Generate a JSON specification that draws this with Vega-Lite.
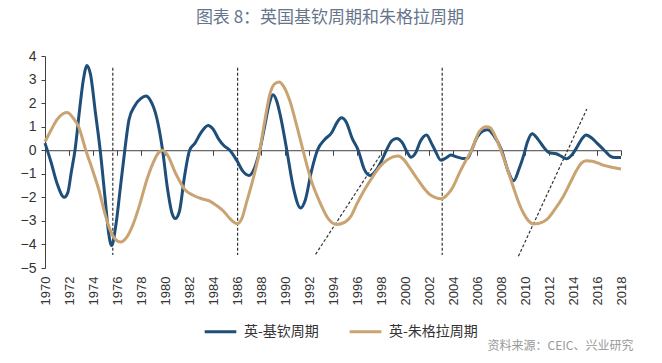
{
  "$schema": "https://vega.github.io/schema/vega-lite/v6.json",
  "width": 576,
  "height": 212,
  "autosize": {"type": "none"},
  "padding": {"left": 45, "top": 56, "right": 41, "bottom": 95},
  "background": "white",
  "config": {
    "view": {"stroke": null},
    "axisY": {"labelOverlap": false, "labelFlush": false, "labelFontSize": 14, "labelFont": "Liberation Sans", "labelColor": "#333333", "labelPadding": 5, "grid": false, "domainColor": "#404040", "tickColor": "#404040", "tickSize": 4, "title": null}
  },
  "title": {
    "text": "图表 8：英国基钦周期和朱格拉周期",
    "font": "Noto Sans CJK SC",
    "fontSize": 17,
    "fontWeight": "normal",
    "color": "#66758c",
    "anchor": "middle",
    "offset": 22,
    "dx": -3
  },
  "datasets": {
    "cycles": [
      {"year": 1970.0, "series": "英-基钦周期", "value": 0.3},
      {"year": 1970.5, "series": "英-基钦周期", "value": -0.5},
      {"year": 1971.0, "series": "英-基钦周期", "value": -1.4},
      {"year": 1971.6, "series": "英-基钦周期", "value": -2.0},
      {"year": 1971.9, "series": "英-基钦周期", "value": -1.8},
      {"year": 1972.2, "series": "英-基钦周期", "value": -0.9},
      {"year": 1972.5, "series": "英-基钦周期", "value": 0.0},
      {"year": 1972.9, "series": "英-基钦周期", "value": 1.8},
      {"year": 1973.2, "series": "英-基钦周期", "value": 3.0},
      {"year": 1973.5, "series": "英-基钦周期", "value": 3.6},
      {"year": 1973.8, "series": "英-基钦周期", "value": 3.2},
      {"year": 1974.2, "series": "英-基钦周期", "value": 1.6},
      {"year": 1974.6, "series": "英-基钦周期", "value": 0.0},
      {"year": 1975.0, "series": "英-基钦周期", "value": -2.0},
      {"year": 1975.3, "series": "英-基钦周期", "value": -3.5},
      {"year": 1975.55, "series": "英-基钦周期", "value": -4.05},
      {"year": 1975.9, "series": "英-基钦周期", "value": -3.2},
      {"year": 1976.3, "series": "英-基钦周期", "value": -1.5},
      {"year": 1976.65, "series": "英-基钦周期", "value": 0.0},
      {"year": 1977.0, "series": "英-基钦周期", "value": 1.3},
      {"year": 1977.5, "series": "英-基钦周期", "value": 1.9},
      {"year": 1978.0, "series": "英-基钦周期", "value": 2.2},
      {"year": 1978.4, "series": "英-基钦周期", "value": 2.3},
      {"year": 1978.8, "series": "英-基钦周期", "value": 2.1},
      {"year": 1979.3, "series": "英-基钦周期", "value": 1.4},
      {"year": 1979.8, "series": "英-基钦周期", "value": 0.0},
      {"year": 1980.2, "series": "英-基钦周期", "value": -1.6},
      {"year": 1980.6, "series": "英-基钦周期", "value": -2.7},
      {"year": 1980.85, "series": "英-基钦周期", "value": -2.9},
      {"year": 1981.2, "series": "英-基钦周期", "value": -2.6},
      {"year": 1981.6, "series": "英-基钦周期", "value": -1.2},
      {"year": 1982.05, "series": "英-基钦周期", "value": 0.0},
      {"year": 1982.5, "series": "英-基钦周期", "value": 0.3},
      {"year": 1983.0, "series": "英-基钦周期", "value": 0.75},
      {"year": 1983.6, "series": "英-基钦周期", "value": 1.05},
      {"year": 1984.0, "series": "英-基钦周期", "value": 0.9},
      {"year": 1984.5, "series": "英-基钦周期", "value": 0.45},
      {"year": 1984.9, "series": "英-基钦周期", "value": 0.2},
      {"year": 1985.4, "series": "英-基钦周期", "value": 0.0},
      {"year": 1986.0, "series": "英-基钦周期", "value": -0.45},
      {"year": 1986.5, "series": "英-基钦周期", "value": -0.9},
      {"year": 1987.0, "series": "英-基钦周期", "value": -1.07},
      {"year": 1987.5, "series": "英-基钦周期", "value": -0.7},
      {"year": 1987.9, "series": "英-基钦周期", "value": 0.0},
      {"year": 1988.3, "series": "英-基钦周期", "value": 1.0},
      {"year": 1988.7, "series": "英-基钦周期", "value": 2.0},
      {"year": 1989.0, "series": "英-基钦周期", "value": 2.35},
      {"year": 1989.3, "series": "英-基钦周期", "value": 2.1},
      {"year": 1989.6, "series": "英-基钦周期", "value": 1.5},
      {"year": 1990.15, "series": "英-基钦周期", "value": 0.0},
      {"year": 1990.7, "series": "英-基钦周期", "value": -1.6},
      {"year": 1991.3, "series": "英-基钦周期", "value": -2.45},
      {"year": 1991.7, "series": "英-基钦周期", "value": -2.1},
      {"year": 1992.2, "series": "英-基钦周期", "value": -0.9},
      {"year": 1992.7, "series": "英-基钦周期", "value": 0.0},
      {"year": 1993.3, "series": "英-基钦周期", "value": 0.45},
      {"year": 1993.9, "series": "英-基钦周期", "value": 0.75},
      {"year": 1994.3, "series": "英-基钦周期", "value": 1.15},
      {"year": 1994.7, "series": "英-基钦周期", "value": 1.38},
      {"year": 1995.1, "series": "英-基钦周期", "value": 1.2},
      {"year": 1995.6, "series": "英-基钦周期", "value": 0.5},
      {"year": 1996.1, "series": "英-基钦周期", "value": 0.0},
      {"year": 1996.6, "series": "英-基钦周期", "value": -0.8},
      {"year": 1997.1, "series": "英-基钦周期", "value": -1.07},
      {"year": 1997.6, "series": "英-基钦周期", "value": -0.85},
      {"year": 1998.0, "series": "英-基钦周期", "value": -0.5},
      {"year": 1998.45, "series": "英-基钦周期", "value": 0.0},
      {"year": 1998.9, "series": "英-基钦周期", "value": 0.4},
      {"year": 1999.3, "series": "英-基钦周期", "value": 0.5},
      {"year": 1999.8, "series": "英-基钦周期", "value": 0.3},
      {"year": 2000.2, "series": "英-基钦周期", "value": -0.1},
      {"year": 2000.5, "series": "英-基钦周期", "value": -0.3},
      {"year": 2000.9, "series": "英-基钦周期", "value": -0.1},
      {"year": 2001.3, "series": "英-基钦周期", "value": 0.4},
      {"year": 2001.8, "series": "英-基钦周期", "value": 0.65},
      {"year": 2002.2, "series": "英-基钦周期", "value": 0.3},
      {"year": 2002.5, "series": "英-基钦周期", "value": 0.0},
      {"year": 2003.0, "series": "英-基钦周期", "value": -0.43},
      {"year": 2003.5, "series": "英-基钦周期", "value": -0.3},
      {"year": 2003.8, "series": "英-基钦周期", "value": -0.2},
      {"year": 2004.3, "series": "英-基钦周期", "value": -0.28},
      {"year": 2004.8, "series": "英-基钦周期", "value": -0.35},
      {"year": 2005.2, "series": "英-基钦周期", "value": -0.35},
      {"year": 2005.55, "series": "英-基钦周期", "value": 0.0},
      {"year": 2006.0, "series": "英-基钦周期", "value": 0.55},
      {"year": 2006.5, "series": "英-基钦周期", "value": 0.82},
      {"year": 2006.9, "series": "英-基钦周期", "value": 0.87},
      {"year": 2007.4, "series": "英-基钦周期", "value": 0.62},
      {"year": 2008.05, "series": "英-基钦周期", "value": 0.0},
      {"year": 2008.6, "series": "英-基钦周期", "value": -0.9},
      {"year": 2009.05, "series": "英-基钦周期", "value": -1.3},
      {"year": 2009.5, "series": "英-基钦周期", "value": -0.8},
      {"year": 2009.9, "series": "英-基钦周期", "value": -0.2},
      {"year": 2010.2, "series": "英-基钦周期", "value": 0.35},
      {"year": 2010.6, "series": "英-基钦周期", "value": 0.7},
      {"year": 2011.1, "series": "英-基钦周期", "value": 0.45},
      {"year": 2011.6, "series": "英-基钦周期", "value": 0.1},
      {"year": 2012.0, "series": "英-基钦周期", "value": -0.1},
      {"year": 2012.6, "series": "英-基钦周期", "value": -0.15},
      {"year": 2013.0, "series": "英-基钦周期", "value": -0.25},
      {"year": 2013.45, "series": "英-基钦周期", "value": -0.36},
      {"year": 2013.9, "series": "英-基钦周期", "value": -0.2},
      {"year": 2014.3, "series": "英-基钦周期", "value": 0.1},
      {"year": 2014.7, "series": "英-基钦周期", "value": 0.45},
      {"year": 2015.1, "series": "英-基钦周期", "value": 0.65},
      {"year": 2015.6, "series": "英-基钦周期", "value": 0.5},
      {"year": 2016.0, "series": "英-基钦周期", "value": 0.3},
      {"year": 2016.6, "series": "英-基钦周期", "value": 0.0},
      {"year": 2017.1, "series": "英-基钦周期", "value": -0.25},
      {"year": 2017.5, "series": "英-基钦周期", "value": -0.31},
      {"year": 2018.0, "series": "英-基钦周期", "value": -0.31},
      {"year": 1970.0, "series": "英-朱格拉周期", "value": 0.36},
      {"year": 1970.5, "series": "英-朱格拉周期", "value": 0.85},
      {"year": 1971.0, "series": "英-朱格拉周期", "value": 1.3},
      {"year": 1971.5, "series": "英-朱格拉周期", "value": 1.55},
      {"year": 1971.85, "series": "英-朱格拉周期", "value": 1.6},
      {"year": 1972.3, "series": "英-朱格拉周期", "value": 1.4},
      {"year": 1972.8, "series": "英-朱格拉周期", "value": 1.0},
      {"year": 1973.4, "series": "英-朱格拉周期", "value": 0.0},
      {"year": 1974.0, "series": "英-朱格拉周期", "value": -0.9},
      {"year": 1974.5, "series": "英-朱格拉周期", "value": -1.7},
      {"year": 1975.0, "series": "英-朱格拉周期", "value": -2.7},
      {"year": 1975.4, "series": "英-朱格拉周期", "value": -3.35},
      {"year": 1975.8, "series": "英-朱格拉周期", "value": -3.75},
      {"year": 1976.3, "series": "英-朱格拉周期", "value": -3.9},
      {"year": 1976.8, "series": "英-朱格拉周期", "value": -3.7},
      {"year": 1977.3, "series": "英-朱格拉周期", "value": -3.2},
      {"year": 1977.9, "series": "英-朱格拉周期", "value": -2.3},
      {"year": 1978.4, "series": "英-朱格拉周期", "value": -1.4},
      {"year": 1979.0, "series": "英-朱格拉周期", "value": -0.55},
      {"year": 1979.4, "series": "英-朱格拉周期", "value": -0.15},
      {"year": 1979.8, "series": "英-朱格拉周期", "value": 0.0},
      {"year": 1980.2, "series": "英-朱格拉周期", "value": -0.2},
      {"year": 1980.9, "series": "英-朱格拉周期", "value": -1.0},
      {"year": 1981.7, "series": "英-朱格拉周期", "value": -1.7},
      {"year": 1982.3, "series": "英-朱格拉周期", "value": -1.9},
      {"year": 1983.0, "series": "英-朱格拉周期", "value": -2.05},
      {"year": 1983.7, "series": "英-朱格拉周期", "value": -2.15},
      {"year": 1984.3, "series": "英-朱格拉周期", "value": -2.35},
      {"year": 1984.9, "series": "英-朱格拉周期", "value": -2.6},
      {"year": 1985.5, "series": "英-朱格拉周期", "value": -2.95},
      {"year": 1986.0, "series": "英-朱格拉周期", "value": -3.12},
      {"year": 1986.4, "series": "英-朱格拉周期", "value": -2.9},
      {"year": 1986.8, "series": "英-朱格拉周期", "value": -2.2},
      {"year": 1987.3, "series": "英-朱格拉周期", "value": -1.3},
      {"year": 1987.9, "series": "英-朱格拉周期", "value": 0.0},
      {"year": 1988.3, "series": "英-朱格拉周期", "value": 1.2},
      {"year": 1988.7, "series": "英-朱格拉周期", "value": 2.3},
      {"year": 1989.1, "series": "英-朱格拉周期", "value": 2.8},
      {"year": 1989.5, "series": "英-朱格拉周期", "value": 2.9},
      {"year": 1989.9, "series": "英-朱格拉周期", "value": 2.7},
      {"year": 1990.4, "series": "英-朱格拉周期", "value": 2.1},
      {"year": 1991.0, "series": "英-朱格拉周期", "value": 1.0},
      {"year": 1991.5, "series": "英-朱格拉周期", "value": 0.0},
      {"year": 1992.2, "series": "英-朱格拉周期", "value": -1.3},
      {"year": 1992.9, "series": "英-朱格拉周期", "value": -2.2},
      {"year": 1993.6, "series": "英-朱格拉周期", "value": -2.9},
      {"year": 1994.3, "series": "英-朱格拉周期", "value": -3.15},
      {"year": 1995.0, "series": "英-朱格拉周期", "value": -3.05},
      {"year": 1995.5, "series": "英-朱格拉周期", "value": -2.8},
      {"year": 1996.0, "series": "英-朱格拉周期", "value": -2.27},
      {"year": 1996.6, "series": "英-朱格拉周期", "value": -1.7},
      {"year": 1997.3, "series": "英-朱格拉周期", "value": -1.13},
      {"year": 1997.9, "series": "英-朱格拉周期", "value": -0.7},
      {"year": 1998.5, "series": "英-朱格拉周期", "value": -0.42},
      {"year": 1999.0, "series": "英-朱格拉周期", "value": -0.28},
      {"year": 1999.45, "series": "英-朱格拉周期", "value": -0.24},
      {"year": 1999.9, "series": "英-朱格拉周期", "value": -0.4},
      {"year": 2000.4, "series": "英-朱格拉周期", "value": -0.75},
      {"year": 2001.0, "series": "英-朱格拉周期", "value": -1.2},
      {"year": 2001.5, "series": "英-朱格拉周期", "value": -1.56},
      {"year": 2002.0, "series": "英-朱格拉周期", "value": -1.85},
      {"year": 2002.5, "series": "英-朱格拉周期", "value": -2.0},
      {"year": 2003.05, "series": "英-朱格拉周期", "value": -2.06},
      {"year": 2003.5, "series": "英-朱格拉周期", "value": -1.9},
      {"year": 2004.0, "series": "英-朱格拉周期", "value": -1.56},
      {"year": 2004.5, "series": "英-朱格拉周期", "value": -1.0},
      {"year": 2005.0, "series": "英-朱格拉周期", "value": -0.5},
      {"year": 2005.55, "series": "英-朱格拉周期", "value": 0.0},
      {"year": 2006.2, "series": "英-朱格拉周期", "value": 0.8},
      {"year": 2006.8, "series": "英-朱格拉周期", "value": 1.0},
      {"year": 2007.1, "series": "英-朱格拉周期", "value": 0.95},
      {"year": 2007.6, "series": "英-朱格拉周期", "value": 0.5},
      {"year": 2008.2, "series": "英-朱格拉周期", "value": -0.3},
      {"year": 2008.6, "series": "英-朱格拉周期", "value": -0.9},
      {"year": 2009.05, "series": "英-朱格拉周期", "value": -1.6},
      {"year": 2009.5, "series": "英-朱格拉周期", "value": -2.25},
      {"year": 2009.9, "series": "英-朱格拉周期", "value": -2.7},
      {"year": 2010.3, "series": "英-朱格拉周期", "value": -3.0},
      {"year": 2010.7, "series": "英-朱格拉周期", "value": -3.13},
      {"year": 2011.2, "series": "英-朱格拉周期", "value": -3.1},
      {"year": 2011.8, "series": "英-朱格拉周期", "value": -2.95},
      {"year": 2012.5, "series": "英-朱格拉周期", "value": -2.5},
      {"year": 2013.2, "series": "英-朱格拉周期", "value": -1.95},
      {"year": 2013.8, "series": "英-朱格拉周期", "value": -1.35},
      {"year": 2014.3, "series": "英-朱格拉周期", "value": -0.85},
      {"year": 2014.7, "series": "英-朱格拉周期", "value": -0.55},
      {"year": 2015.1, "series": "英-朱格拉周期", "value": -0.45},
      {"year": 2015.6, "series": "英-朱格拉周期", "value": -0.47},
      {"year": 2016.1, "series": "英-朱格拉周期", "value": -0.55},
      {"year": 2016.5, "series": "英-朱格拉周期", "value": -0.63},
      {"year": 2017.2, "series": "英-朱格拉周期", "value": -0.72},
      {"year": 2018.0, "series": "英-朱格拉周期", "value": -0.8}
    ],
    "guides": [
      {"x": 1975.65, "y": 3.5, "x2": 1975.65, "y2": -4.45},
      {"x": 1986.05, "y": 3.5, "x2": 1986.05, "y2": -4.45},
      {"x": 2003.1, "y": 3.5, "x2": 2003.1, "y2": -4.45},
      {"x": 1992.55, "y": -4.42, "x2": 1998.05, "y2": -0.13},
      {"x": 2009.45, "y": -4.5, "x2": 2015.15, "y2": 1.75}
    ]
  },
  "layer": [
    {
      "data": {"name": "guides"},
      "mark": {"type": "rule", "color": "#333333", "strokeWidth": 1.2, "strokeDash": [3, 2]},
      "encoding": {
        "x": {
          "field": "x", "type": "quantitative",
          "scale": {"domain": [1970, 2018], "nice": false, "zero": false},
          "axis": {
            "orient": "bottom",
            "offset": -117.78,
            "values": [1970, 1972, 1974, 1976, 1978, 1980, 1982, 1984, 1986, 1988, 1990, 1992, 1994, 1996, 1998, 2000, 2002, 2004, 2006, 2008, 2010, 2012, 2014, 2016, 2018],
            "labels": false,
            "grid": false,
            "title": null,
            "domain": true,
            "domainColor": "#404040",
            "domainWidth": 1,
            "ticks": true,
            "tickColor": "#404040",
            "tickSize": 5,
            "tickWidth": 1
          }
        },
        "y": {
          "field": "y", "type": "quantitative",
          "scale": {"domain": [-5, 4], "nice": false, "zero": false},
          "axis": {"values": [-5, -4, -3, -2, -1, 0, 1, 2, 3, 4], "labelOverlap": false, "labelFlush": false, "title": null}
        },
        "x2": {"field": "x2"},
        "y2": {"field": "y2"}
      }
    },
    {
      "data": {"name": "cycles"},
      "mark": {"type": "line", "interpolate": "monotone", "strokeWidth": 3},
      "encoding": {
        "x": {
          "field": "year", "type": "quantitative",
          "scale": {"domain": [1970, 2018], "nice": false, "zero": false},
          "axis": {
            "orient": "bottom",
            "values": [1970, 1972, 1974, 1976, 1978, 1980, 1982, 1984, 1986, 1988, 1990, 1992, 1994, 1996, 1998, 2000, 2002, 2004, 2006, 2008, 2010, 2012, 2014, 2016, 2018],
            "format": "d",
            "labelAngle": -90,
            "labelFont": "Liberation Sans",
            "labelFontSize": 13,
            "labelColor": "#333333",
            "labelPadding": 8,
            "labelOverlap": false,
            "labelFlush": false,
            "domain": false,
            "ticks": false,
            "grid": false,
            "title": "资料来源：CEIC、兴业研究",
            "titleFont": "Noto Sans CJK SC",
            "titleFontSize": 12,
            "titleFontWeight": "normal",
            "titleColor": "#999999",
            "titleAlign": "right",
            "titleAnchor": "end",
            "titleBaseline": "alphabetic",
            "titleX": 588,
            "titleY": 81
          }
        },
        "y": {
          "field": "value", "type": "quantitative",
          "scale": {"domain": [-5, 4], "nice": false, "zero": false},
          "axis": {
            "values": [-5, -4, -3, -2, -1, 0, 1, 2, 3, 4],
            "title": null,
            "labelOverlap": false,
            "labelFlush": false
          }
        },
        "color": {
          "field": "series", "type": "nominal",
          "scale": {"domain": ["英-基钦周期", "英-朱格拉周期"], "range": ["#1f4e79", "#c9a472"]},
          "legend": {
            "title": null,
            "orient": "none",
            "legendX": 158,
            "legendY": 258,
            "direction": "horizontal",
            "symbolType": "stroke",
            "symbolSize": 1000,
            "symbolStrokeWidth": 3,
            "labelFont": "Noto Sans CJK SC",
            "labelFontSize": 14,
            "labelColor": "#333333",
            "labelOffset": 6,
            "columnPadding": 24,
            "padding": 0
          }
        }
      }
    }
  ],
  "resolve": {"axis": {"x": "independent"}}
}
